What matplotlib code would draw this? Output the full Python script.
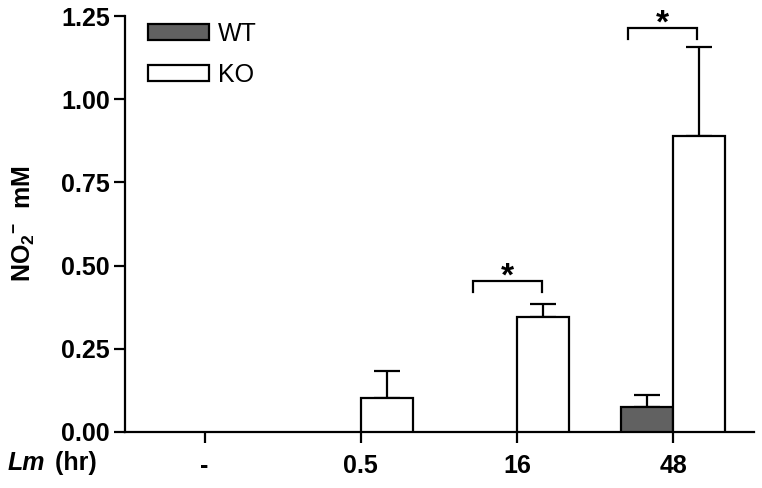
import matplotlib.pyplot as plt
import numpy as np

plt.rcParams['font.family'] = 'Liberation Sans'
plt.rcParams['mathtext.fontset'] = 'custom'
plt.rcParams['mathtext.rm'] = 'Liberation Sans:bold'
plt.rcParams['mathtext.bf'] = 'Liberation Sans:bold'
plt.rcParams['mathtext.default'] = 'bf'

# data
timepoints = ['-', '0.5', '16', '48']
wt_mean = [0.0, 0.0, 0.0, 0.075]
wt_err = [0.0, 0.0, 0.0, 0.036]
ko_mean = [0.0, 0.102, 0.345, 0.889]
ko_err = [0.0, 0.081, 0.04, 0.268]

# significance brackets: (x_left, x_right, y)
brackets = [(1.72, 2.16, 0.454), (2.71, 3.15, 1.214)]

x = np.arange(len(timepoints))
width = 0.333
fs = 18
lw = 1.6

fig = plt.figure(figsize=(7.62, 4.88), dpi=100)
ax = fig.add_axes([0.164, 0.115, 0.826, 0.852])

wt_show = [m > 0 for m in wt_mean]
ko_show = [m > 0 for m in ko_mean]

wx = x[wt_show] - width / 2
kx = x[ko_show] + width / 2
wm = np.array(wt_mean)[wt_show]
km = np.array(ko_mean)[ko_show]
ax.bar(wx, wm, width, color='#616161', edgecolor='black', linewidth=lw, label='WT', zorder=3)
ax.bar(kx, km, width, color='white', edgecolor='black', linewidth=lw, label='KO', zorder=3)

# upper-only error bars
ax.errorbar(wx, wm, yerr=[np.zeros(len(wm)), np.array(wt_err)[wt_show]],
            fmt='none', ecolor='black', elinewidth=lw, capsize=9.5, capthick=lw, zorder=2)
ax.errorbar(kx, km, yerr=[np.zeros(len(km)), np.array(ko_err)[ko_show]],
            fmt='none', ecolor='black', elinewidth=lw, capsize=9.5, capthick=lw, zorder=2)

for x0, x1, y in brackets:
    ax.plot([x0, x0, x1, x1], [y - 0.034, y, y, y - 0.034], color='black', lw=lw,
            solid_joinstyle='miter', clip_on=False)
    ax.text((x0 + x1) / 2, y + 0.012, '*', ha='center', va='center', fontsize=24,
            fontweight='bold')

ax.set_xlim(-0.51, 3.52)
ax.set_ylim(0, 1.25)
ax.set_yticks([0, 0.25, 0.5, 0.75, 1.0, 1.25])
ax.set_yticklabels(['0.00', '0.25', '0.50', '0.75', '1.00', '1.25'])
ax.set_xticks(x)
ax.set_xticklabels(timepoints)
for lab in ax.get_xticklabels() + ax.get_yticklabels():
    lab.set_fontweight('bold')
    lab.set_fontsize(fs)

ax.spines['top'].set_visible(False)
ax.spines['right'].set_visible(False)
ax.spines['left'].set_linewidth(lw)
ax.spines['bottom'].set_linewidth(lw)
ax.tick_params(axis='both', width=lw, length=8, pad=3)
ax.tick_params(axis='x', pad=8)

ax.set_ylabel(r'NO$_{2}{}^{-}$  mM', fontsize=fs, fontweight='bold')
ax.yaxis.set_label_coords(-0.14, 0.5)

fig.text(0.010, 0.051, 'Lm', fontsize=fs, fontweight='bold', style='italic', va='center')
fig.text(0.063, 0.051, ' (hr)', fontsize=fs, fontweight='bold', va='center')

ax.legend(loc='upper left', bbox_to_anchor=(0.037, 0.986), frameon=False, fontsize=fs,
          handlelength=2.44, handleheight=0.6, handletextpad=0.36, labelspacing=0.67,
          borderpad=0, borderaxespad=0)

fig.savefig('out.png', dpi=100)
